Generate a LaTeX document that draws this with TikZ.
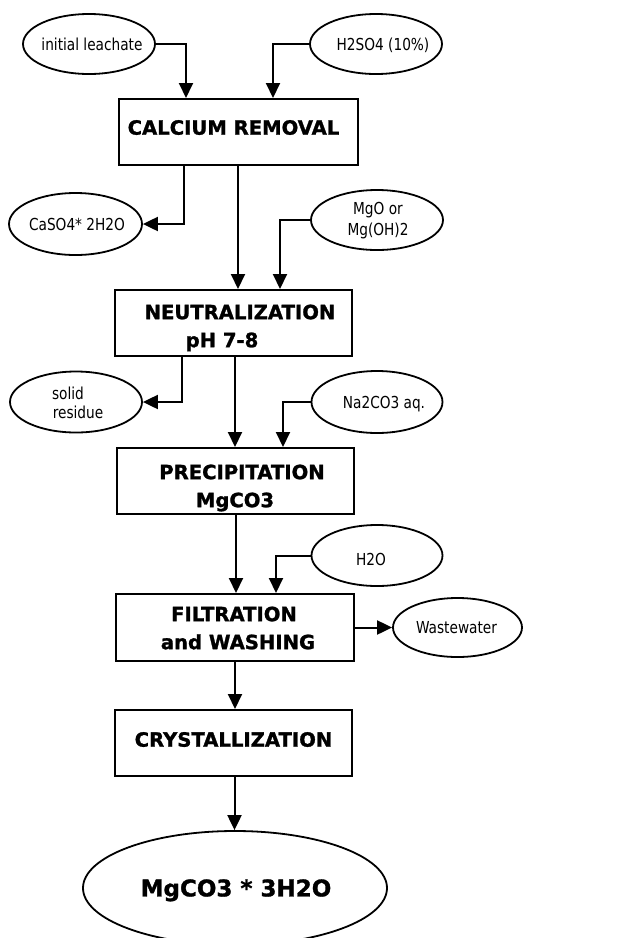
\documentclass[tikz,border=0pt]{standalone}
\usepackage{fontspec}
\setmainfont{DejaVu Sans}
\newfontfamily\lblfont{DejaVu Sans}[FakeStretch=0.83]
\newfontfamily\bfam{DejaVu Sans}[BoldFeatures={FakeBold=1.3}]
\usetikzlibrary{shapes.geometric,arrows.meta}
\begin{document}
\begin{tikzpicture}[x=1pt,y=-1pt,
  procbox/.style={draw, line width=2pt, rectangle, inner sep=0pt},
  feed/.style={draw, line width=1.8pt, ellipse, inner sep=0pt},
  arr/.style={line width=2pt, -{Triangle[length=15pt,width=14pt]}},
  btxt/.style={font=\bfam\fontsize{19.6}{28}\selectfont\bfseries, text height=14.3pt, text depth=0pt, inner sep=0pt},
  stxt/.style={font=\lblfont\fontsize{16.5}{21}\selectfont, text height=12pt, text depth=0pt, inner sep=0pt},
  ftxt/.style={font=\bfam\fontsize{23}{28}\selectfont\bfseries, text height=16.8pt, text depth=0pt, inner sep=0pt}]
\fill[white] (0,0) rectangle (618,938);
\useasboundingbox (0,0) rectangle (618,938);

% process boxes
\node[procbox, minimum width=239pt, minimum height=66pt,
  label={[btxt,xshift=-5pt,yshift=4.5pt]center:CALCIUM REMOVAL}] (cal) at (238.5,132) {};
\node[procbox, minimum width=237pt, minimum height=66pt,
  label={[btxt,xshift=6.5pt,yshift=11pt]center:NEUTRALIZATION},
  label={[btxt,xshift=-11.5pt,yshift=-17pt]center:pH 7-8}] (neu) at (233.5,323) {};
\node[procbox, minimum width=237pt, minimum height=66pt,
  label={[btxt,xshift=6.5pt,yshift=9pt]center:PRECIPITATION},
  label={[btxt,xshift=-0.5pt,yshift=-19pt]center:MgCO3}] (pre) at (235.5,481) {};
\node[procbox, minimum width=238pt, minimum height=67pt,
  label={[btxt,xshift=-1pt,yshift=13.5pt]center:FILTRATION},
  label={[btxt,xshift=3pt,yshift=-14.5pt]center:and WASHING}] (fil) at (235,627.5) {};
\node[procbox, minimum width=237pt, minimum height=66pt,
  label={[btxt,yshift=3.5pt]center:CRYSTALLIZATION}] (cry) at (233.5,743) {};

% feeds and outputs
\node[feed, minimum width=132pt, minimum height=60pt,
  label={[stxt,xshift=3pt]center:initial leachate}] (init) at (89,44) {};
\node[feed, minimum width=132pt, minimum height=60pt,
  label={[stxt,xshift=7pt]center:H2SO4 (10\%)}] (acid) at (376,44) {};
\node[feed, minimum width=133pt, minimum height=62pt,
  label={[stxt,xshift=1.5pt]center:CaSO4* 2H2O}] (gyp) at (75.5,224) {};
\node[feed, minimum width=132pt, minimum height=60pt,
  label={[stxt,xshift=1pt,yshift=12pt]center:MgO or},
  label={[stxt,xshift=1pt,yshift=-9pt]center:Mg(OH)2}] (mgo) at (377,220) {};
\node[feed, minimum width=132pt, minimum height=61pt,
  label={[stxt,xshift=-8pt,yshift=8.6pt]center:solid},
  label={[stxt,xshift=2pt,yshift=-10.4pt]center:residue}] (res) at (76,402) {};
\node[feed, minimum width=131pt, minimum height=62pt,
  label={[stxt,xshift=7pt]center:Na2CO3 aq.}] (soda) at (377,402) {};
\node[feed, minimum width=131pt, minimum height=61pt,
  label={[stxt,xshift=-6pt,yshift=-3.5pt]center:H2O}] (wat) at (377,555.5) {};
\node[feed, minimum width=129pt, minimum height=59pt,
  label={[stxt,xshift=-1pt]center:Wastewater}] (waste) at (457.5,627.5) {};
\node[feed, minimum width=304pt, minimum height=114pt,
  label={[ftxt,xshift=1pt]center:MgCO3 * 3H2O}] (prod) at (235,888) {};

% connectors
\draw[arr] (init.east) -| ([xshift=-52.5pt]cal.north);
\draw[arr] (acid.west) -| ([xshift=34.5pt]cal.north);
\draw[arr] ([xshift=-54.5pt]cal.south) |- (gyp.east);
\coordinate (c1) at ([xshift=-0.5pt]cal.south);
\draw[arr] (c1) -- (c1 |- neu.north);
\draw[arr] (mgo.west) -| ([xshift=46.5pt]neu.north);
\draw[arr] ([xshift=-51.5pt]neu.south) |- (res.east);
\coordinate (c2) at ([xshift=1.5pt]neu.south);
\draw[arr] (c2) -- (c2 |- pre.north);
\draw[arr] (soda.west) -| ([xshift=47.5pt]pre.north);
\coordinate (c3) at ([xshift=0.5pt]pre.south);
\draw[arr] (c3) -- (c3 |- fil.north);
\draw[arr] (wat.west) -| ([xshift=41pt]fil.north);
\draw[arr] (fil.east) -- (waste.west);
\draw[arr] (fil.south) -- (fil.south |- cry.north);
\coordinate (c4) at ([xshift=1pt]cry.south);
\draw[arr] (c4) -- (c4 |- prod.north);
\end{tikzpicture}
\end{document}
